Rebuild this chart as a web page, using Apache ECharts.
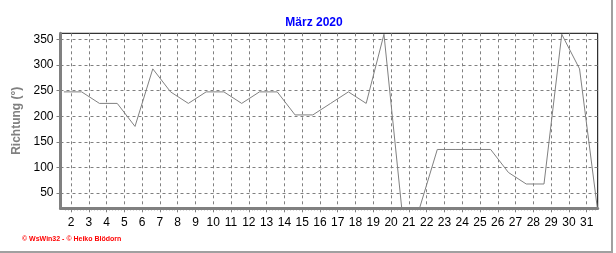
<!DOCTYPE html>
<html>
<head>
<meta charset="utf-8">
<script src="https://cdn.jsdelivr.net/npm/echarts@6/dist/echarts.min.js"></script>
<style>
html,body{margin:0;padding:0;background:#fff;}
#c{width:616px;height:253px;}
</style>
</head>
<body>
<div id="c"></div>
<script>
// Days of March 2020
const days = [1,2,3,4,5,6,7,8,9,10,11,12,13,14,15,16,17,18,19,20,21,22,23,24,25,26,27,28,29,30,31];
// Wind direction (°) per day (values at the axis floor read as 20)
const direction = [247.5,247.5,225,225,180,292.5,247.5,225,247.5,247.5,225,247.5,247.5,202.5,202.5,225,247.5,225,360,20,20,135,135,135,135,90,67.5,67.5,360,292.5,20];
// X tick labels
const xLabels = [2,3,4,5,6,7,8,9,10,11,12,13,14,15,16,17,18,19,20,21,22,23,24,25,26,27,28,29,30,31];
// Y tick labels
const yLabels = [50,100,150,200,250,300,350];
const title = 'März 2020';
const yName = 'Richtung (°)';
const footer = '\u00A9 WsWin32 - \u00A9 Heiko Blödorn';

const OFFSET = 0.6; // daily values are drawn a little after the day mark
const seriesData = days.map((d, i) => [d + OFFSET, direction[i]]);
const minorX = [];
xLabels.forEach(k => { for (let j = 1; j < 6; j++) minorX.push(k + j / 6); });
for (let j = 4; j < 6; j++) minorX.push(1 + j / 6);

const chart = echarts.init(document.getElementById('c'), null, {renderer: 'canvas'});
const font = '"Liberation Sans", Arial, sans-serif';
chart.setOption({
  animation: false,
  backgroundColor: '#ffffff',
  title: {
    text: title, left: 309, top: 12, textAlign: 'center',
    textStyle: {color: '#0000ff', fontSize: 12, fontWeight: 'bold', fontFamily: font}
  },
  grid: {
    left: 60.5, top: 33.3, right: 18.3, bottom: 44.7,
    show: true, borderColor: '#000000', borderWidth: 1, backgroundColor: 'transparent'
  },
  xAxis: [{
    type: 'value', min: 1.41, max: 31.62,
    axisLine: {show: true, onZero: false, lineStyle: {color: '#808080', width: 3}},
    axisTick: {show: true, customValues: xLabels, length: 4, lineStyle: {color: '#808080', width: 1}},
    axisLabel: {show: true, customValues: xLabels, margin: 8, color: '#000', fontSize: 12, fontFamily: font,
      formatter: v => String(Math.round(v))},
    splitLine: {show: true, lineStyle: {color: '#808080', type: [3, 3], width: 1}}
  }, {
    type: 'value', min: 1.41, max: 31.62, position: 'bottom',
    axisLine: {show: false},
    axisTick: {show: true, customValues: minorX, length: 2, lineStyle: {color: '#808080', width: 1}},
    axisLabel: {show: false},
    splitLine: {show: false}
  }],
  yAxis: {
    type: 'value', min: 20, max: 362,
    name: yName, nameLocation: 'middle', nameRotate: 90, nameGap: 35.5,
    nameTextStyle: {color: '#808080', fontSize: 12, fontWeight: 'bold', fontFamily: font},
    axisLine: {show: true, onZero: false, lineStyle: {color: '#808080', width: 3}},
    axisTick: {show: true, customValues: yLabels, length: 4, lineStyle: {color: '#808080', width: 1}},
    axisLabel: {show: true, customValues: yLabels, margin: 7, color: '#000', fontSize: 12, fontFamily: font},
    splitLine: {show: true, lineStyle: {color: '#808080', type: [3, 3], width: 1}}
  },
  series: [{
    type: 'line', data: seriesData, xAxisIndex: 0, showSymbol: false, symbol: 'none',
    lineStyle: {color: '#808080', width: 1}, clip: true, z: 1
  }],
  graphic: [
    {type: 'text', left: 22, top: 236, style: {text: footer, fill: '#ff0000', font: 'bold 7px "Liberation Sans", sans-serif'}},
    {type: 'rect', shape: {x: 611, y: 0, width: 2, height: 253}, style: {fill: '#a0a0a0'}},
    {type: 'rect', shape: {x: 0, y: 251, width: 613, height: 2}, style: {fill: '#a0a0a0'}}
  ]
});
</script>
</body>
</html>
